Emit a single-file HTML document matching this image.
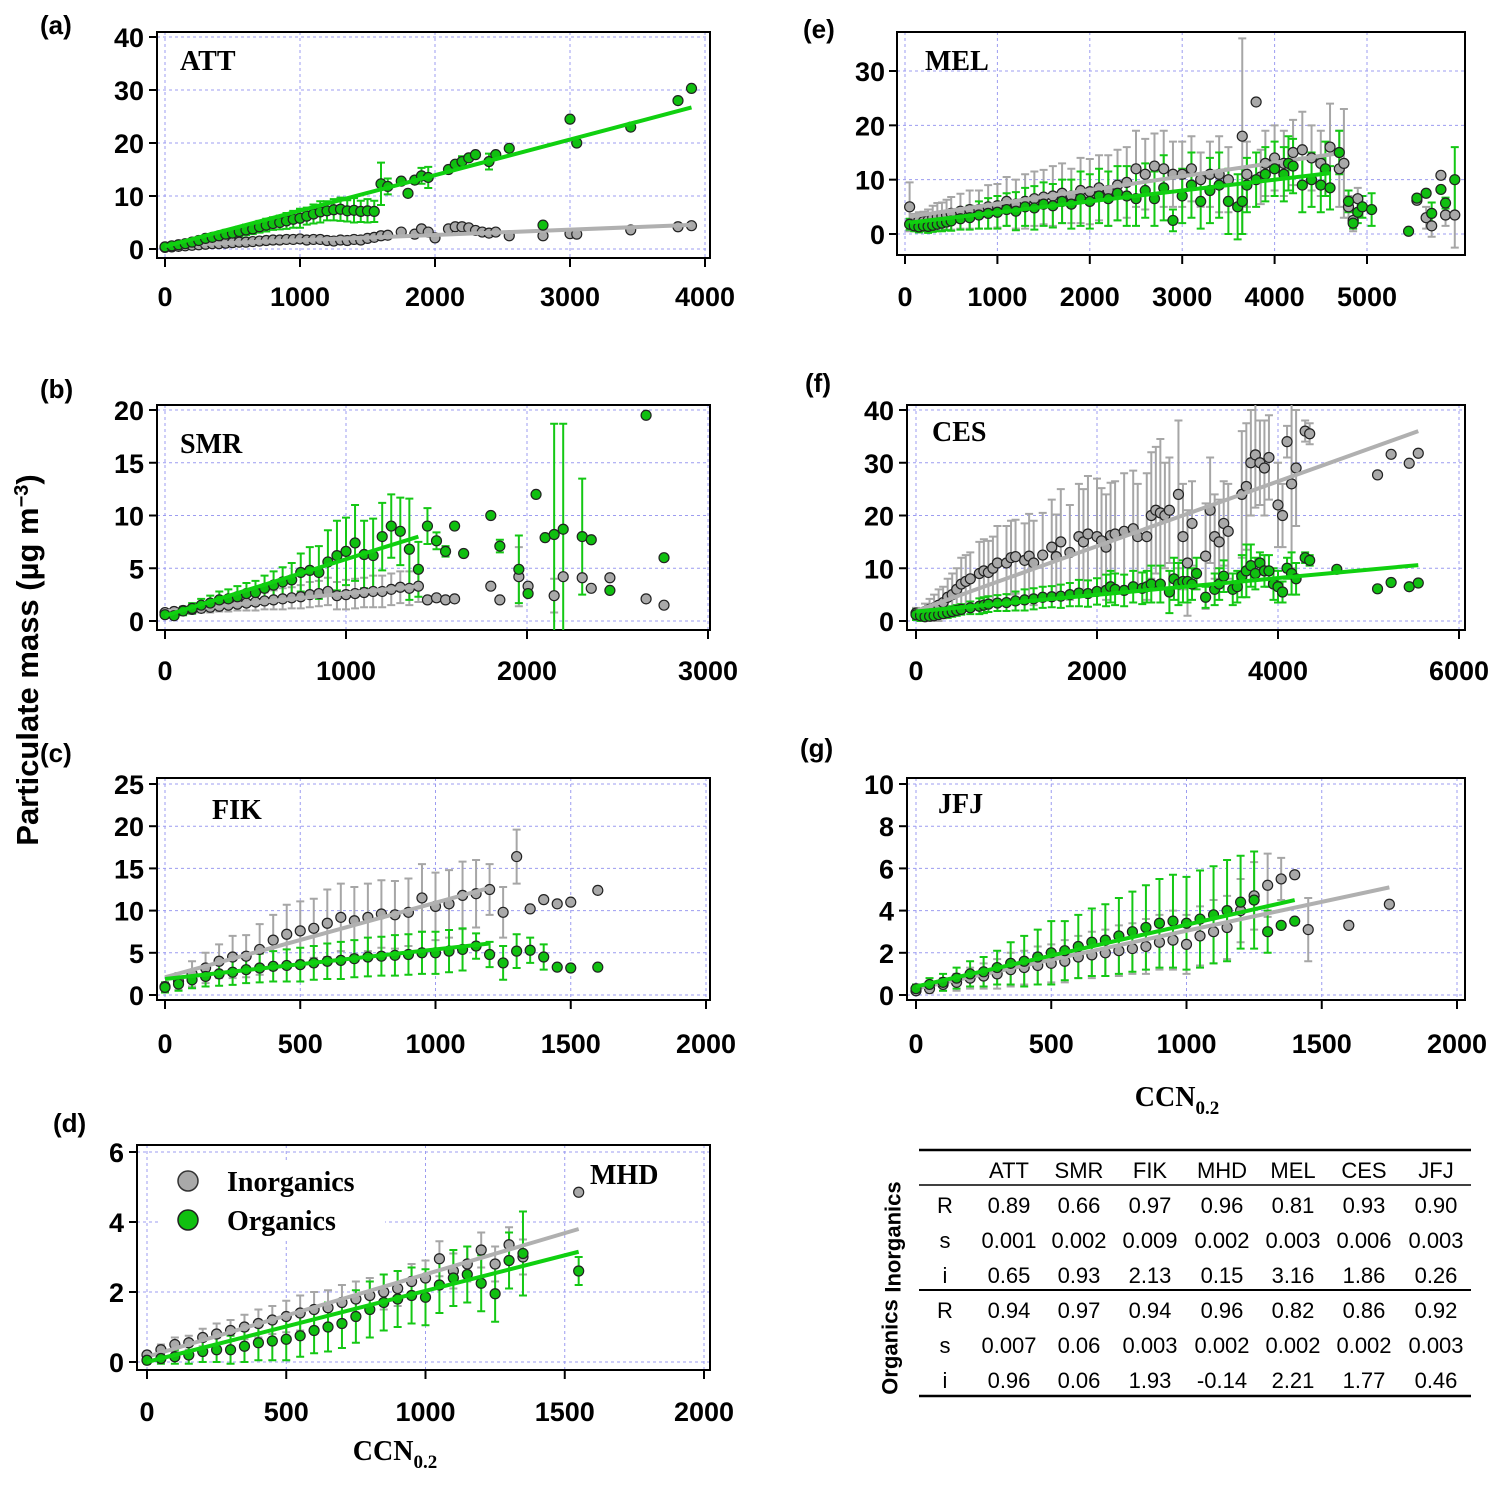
<!DOCTYPE html>
<html><head><meta charset="utf-8">
<style>
html,body{margin:0;padding:0;background:#fff;}
svg text{font-family:"Liberation Sans",sans-serif;}
.tick{font-family:"Liberation Sans",sans-serif;font-weight:bold;font-size:27px;fill:#000;}
.ttl{font-family:"Liberation Serif",serif;font-weight:bold;font-size:28px;fill:#000;}
.plab{font-family:"Liberation Sans",sans-serif;font-weight:bold;font-size:26px;fill:#000;}
.tb{font-family:"Liberation Sans",sans-serif;font-size:22px;fill:#000;}
</style></head>
<body>
<svg id="fig" width="1502" height="1482" viewBox="0 0 1502 1482" xmlns="http://www.w3.org/2000/svg">
<rect x="0" y="0" width="1502" height="1482" fill="#fff"/>
<text class="plab" x="40" y="34">(a)</text>
<text class="plab" x="803" y="38">(e)</text>
<text class="plab" x="40" y="398">(b)</text>
<text class="plab" x="805" y="392">(f)</text>
<text class="plab" x="40" y="762">(c)</text>
<text class="plab" x="800" y="757">(g)</text>
<text class="plab" x="53" y="1132">(d)</text>
<text x="38" y="660" transform="rotate(-90 38 660)" text-anchor="middle" style="font-weight:bold;font-size:31px">Particulate mass (µg m<tspan dy="-10" font-size="20">−3</tspan><tspan dy="10">)</tspan></text>
<text class="ttl" x="1177" y="1106" text-anchor="middle">CCN<tspan dy="8" font-size="19">0.2</tspan></text>
<text class="ttl" x="395" y="1460" text-anchor="middle">CCN<tspan dy="8" font-size="19">0.2</tspan></text>
<g id="plots"></g>
<g id="legend">
<rect x="160" y="1163" width="225" height="78" fill="#fff"/>
<circle cx="188" cy="1181" r="10" fill="#a9a9a9" stroke="#333" stroke-width="1.5"/>
<text class="ttl" x="227" y="1191">Inorganics</text>
<circle cx="188" cy="1220" r="10" fill="#10c010" stroke="#222" stroke-width="1.5"/>
<text class="ttl" x="227" y="1230">Organics</text>
</g>
<g id="table">
<line x1="919" y1="1150" x2="1471" y2="1150" stroke="#000" stroke-width="2.5"/>
<line x1="919" y1="1185" x2="1471" y2="1185" stroke="#000" stroke-width="1.5"/>
<line x1="919" y1="1290" x2="1471" y2="1290" stroke="#000" stroke-width="2"/>
<line x1="919" y1="1396" x2="1471" y2="1396" stroke="#000" stroke-width="2.5"/>
<text class="tb" x="893" y="1237" transform="rotate(-90 893 1237)" text-anchor="middle" dominant-baseline="central" style="font-weight:bold">Inorganics</text>
<text class="tb" x="890" y="1347" transform="rotate(-90 890 1347)" text-anchor="middle" dominant-baseline="central" style="font-weight:bold">Organics</text>
</g>
</svg>
<script>
// ---- data ----
const stations = ["ATT","SMR","FIK","MHD","MEL","CES","JFJ"];
const rowLabels = ["R","s","i","R","s","i"];
const tableValues = [
 ["0.89","0.66","0.97","0.96","0.81","0.93","0.90"],
 ["0.001","0.002","0.009","0.002","0.003","0.006","0.003"],
 ["0.65","0.93","2.13","0.15","3.16","1.86","0.26"],
 ["0.94","0.97","0.94","0.96","0.82","0.86","0.92"],
 ["0.007","0.06","0.003","0.002","0.002","0.002","0.003"],
 ["0.96","0.06","1.93","-0.14","2.21","1.77","0.46"]];

const attOrg = [[0,0.4,0.3],[50,0.6,0.3],[100,0.8,0.4],[150,1.0,0.4],[200,1.3,0.5],[250,1.6,0.5],[300,2.0,0.6],[350,2.2,0.6],[400,2.5,0.7],[450,2.8,0.8],[500,3.0,0.8],[550,3.3,0.9],[600,3.6,1.0],[650,3.8,1.0],[700,4.2,1.1],[750,4.5,1.2],[800,4.8,1.2],[850,5.0,1.3],[900,5.3,1.5],[950,5.6,1.6],[1000,5.8,1.8],[1050,6.2,1.6],[1100,6.6,1.8],[1150,7.0,2.0],[1200,7.2,1.8],[1250,7.4,2.0],[1300,7.5,2.2],[1350,7.2,2.0],[1400,7.3,2.3],[1450,7.1,2.0],[1500,7.2,2.2],[1550,7.1,2.0],[1600,12.3,4.0],[1650,11.8,1.5],[1750,12.8,0],[1800,10.5,0],[1850,13.0,0],[1900,13.8,1.5],[1950,13.5,2.0],[2100,15.0,0],[2150,16.0,0],[2200,16.5,1.0],[2250,17.2,0],[2300,17.8,0],[2400,16.5,1.5],[2450,17.8,0],[2550,19.0,0],[2800,4.5,0],[3000,24.5,0],[3050,20.0,0],[3450,23.0,0],[3800,28.0,0],[3900,30.3,0]];
const attInorg = [[0,0.3,0.2],[50,0.4,0.2],[100,0.5,0.2],[150,0.6,0.3],[200,0.7,0.3],[250,0.8,0.3],[300,0.9,0.3],[350,1.0,0.3],[400,1.0,0.4],[450,1.1,0.4],[500,1.2,0.4],[550,1.3,0.4],[600,1.3,0.5],[650,1.4,0.5],[700,1.5,0.5],[750,1.6,0.5],[800,1.7,0.5],[850,1.7,0.5],[900,1.8,0.6],[950,1.8,0.6],[1000,1.9,0.6],[1050,1.7,0.6],[1100,1.8,0.6],[1150,1.8,0.6],[1200,1.6,0.6],[1250,1.5,0.6],[1300,1.7,0.6],[1350,1.6,0.6],[1400,1.8,0.6],[1450,1.7,0.6],[1500,2.0,0.6],[1550,2.2,0.6],[1600,2.5,0.7],[1650,2.6,0],[1750,3.2,0],[1850,2.8,0],[1900,3.8,0],[1950,3.2,0],[2000,2.1,0],[2100,3.8,0],[2150,4.2,0],[2200,4.2,0],[2250,4.0,0],[2300,3.5,0],[2350,3.2,0],[2400,3.0,0],[2450,3.2,0],[2550,2.5,0],[2800,2.5,0],[3000,2.9,0],[3050,2.8,0],[3450,3.6,0],[3800,4.2,0],[3900,4.4,0]];
const attFitOrg = [0,0.5,3900,26.7];
const attFitInorg = [0,0.65,3900,4.55];

const melInorg = [[50,5,4.5],[100,2.2,1.5],[150,2.5,1.5],[200,2.3,1.8],[250,2.5,2],[300,3,2.2],[350,3.2,2.5],[400,3.3,2.5],[450,3.5,2.8],[500,3.8,3],[600,4.2,3.2],[700,4.5,3.5],[800,4.5,3.5],[900,5,4],[1000,5.2,4],[1100,6,4.5],[1200,5.5,4.5],[1300,6,5],[1400,6.5,5],[1500,6.8,5],[1600,7,5.5],[1700,7.5,5.5],[1800,7,5],[1900,8,6],[2000,7.8,6],[2100,8.5,6],[2200,8,6.5],[2300,9,6.5],[2400,9.5,6.5],[2500,12,7],[2600,11,6.5],[2700,12.5,6],[2800,12,7],[2900,11,6],[3000,11,6],[3100,12,6],[3200,10,5],[3300,11,6],[3400,11,7],[3500,10,6],[3650,18,18],[3700,11,6],[3800,24.3,0],[3850,10.5,5],[3900,13,6],[4000,14,6],[4100,13,6],[4200,15,6],[4300,15.5,7],[4400,14,6],[4500,13,6],[4600,16,8],[4700,12,7],[4750,13,10],[4800,5,2],[4850,2.5,2],[4900,6.5,2],[5540,6.2,0],[5640,3,2],[5700,1.5,2],[5800,10.8,0],[5850,3.5,2],[5950,3.5,6]];
const melOrg = [[50,1.8,1],[100,1.5,1],[150,1.3,1],[200,1.5,1],[250,1.4,1.2],[300,1.6,1.2],[350,1.8,1.3],[400,2,1.5],[450,2.2,1.5],[500,2.4,1.8],[600,2.8,2],[700,3,2.2],[800,3.5,2.5],[900,3.8,2.8],[1000,4,3],[1100,4.5,3],[1200,4.2,3.5],[1300,5,3.5],[1400,4.8,4],[1500,5.5,4],[1600,5.2,4],[1700,6,4],[1800,5.5,4.5],[1900,6.5,5],[2000,6,5],[2100,7,5],[2200,6.5,5],[2300,7.5,5],[2400,7,5.5],[2500,6.5,5],[2600,8,5],[2700,6.5,5],[2800,8.5,6],[2900,2.5,2],[3000,7,5],[3100,9,6],[3200,6,5],[3300,8,6],[3400,9,6],[3500,6,6],[3600,5,6],[3650,6,6],[3700,9,5],[3800,10,5],[3900,11,5],[4000,12,5],[4100,11,5],[4150,13,5],[4200,12.5,5],[4300,9,5],[4400,10,5],[4500,9,5],[4550,12,5],[4600,8.5,4],[4700,15,4],[4800,6,2],[4850,2,1],[4900,4,2],[4950,5,2],[5050,4.5,3],[5450,0.5,0],[5540,6.6,0],[5640,7.5,0],[5700,3.8,2],[5800,8.2,0],[5850,5.7,1],[5950,10,6]];
const melFitInorg = [50,3.2,4750,15];
const melFitOrg = [50,2.1,4600,11.2];

const smrOrg = [[0,0.6,0.3],[50,0.5,0.3],[100,0.95,0.4],[150,1.2,0.5],[200,1.5,0.6],[250,1.7,0.7],[300,2.0,0.8],[350,2.1,0.9],[400,2.3,1.0],[450,2.6,1.0],[500,2.7,1.1],[550,3.1,1.2],[600,3.4,1.3],[650,3.7,1.4],[700,3.9,1.6],[750,4.6,1.8],[800,4.8,2.2],[850,4.6,2.5],[900,5.6,3.0],[950,6.2,3.3],[1000,6.6,3.2],[1050,7.4,3.6],[1100,6.3,3.2],[1150,6.2,3.5],[1200,8.0,3.2],[1250,9.0,3.0],[1300,8.5,3.2],[1350,6.8,4.8],[1400,4.9,2.6],[1450,9.0,1.7],[1500,7.6,0.8],[1550,6.6,0.5],[1600,9.0,0],[1650,6.4,0],[1800,10,0],[1850,7.1,0.6],[1955,4.9,3.2],[2006,2.6,0],[2050,12,0],[2100,7.9,0],[2150,8.2,10.5],[2200,8.7,10],[2305,8,5.5],[2355,7.7,0],[2458,2.9,0],[2658,19.5,0],[2757,6,0]];
const smrInorg = [[0,0.8,0.3],[50,0.9,0.3],[100,1.0,0.3],[150,1.1,0.4],[200,1.2,0.4],[250,1.3,0.5],[300,1.4,0.5],[350,1.5,0.6],[400,1.6,0.6],[450,1.7,0.7],[500,1.8,0.8],[550,1.9,0.8],[600,2.0,0.9],[650,2.1,1.0],[700,2.2,1.0],[750,2.3,1.1],[800,2.5,1.2],[850,2.6,1.2],[900,2.8,1.3],[950,2.4,1.3],[1000,2.5,1.4],[1050,2.6,1.4],[1100,2.7,1.4],[1150,2.8,1.5],[1200,2.8,1.5],[1250,3.0,1.5],[1300,3.2,1.5],[1350,3.1,1.6],[1400,3.3,1.5],[1450,2.0,0],[1500,2.2,0],[1550,2.0,0],[1600,2.1,0],[1800,3.3,0],[1850,2.0,0],[1955,4.2,2.8],[2006,3.3,0],[2150,2.4,1.6],[2200,4.2,0],[2305,4.1,0],[2355,3.1,0],[2458,4.1,0],[2658,2.1,0],[2757,1.5,0]];
const smrFitOrg = [0,0.5,1400,8.0];
const smrFitInorg = [0,0.9,1400,3.3];

const cesInorg = [[0,1.5,1],[50,1.2,1],[100,1.8,1.5],[150,2.2,2],[200,2.5,2.5],[250,3,3],[300,3.5,3],[350,4.5,3.5],[400,5,4],[450,6,4],[500,7,5],[550,7.5,5],[600,8,5],[700,9,6],[750,9.5,6],[800,9.2,6],[850,10,6],[900,11,7],[1000,11,7],[1050,12,7],[1100,12.2,7],[1200,11.5,7],[1250,12.3,8],[1300,11,8],[1400,12.5,8],[1500,14,9],[1550,12.2,8],[1600,15,10],[1700,13,9],[1800,16,10],[1850,15,10],[1900,16.5,11],[2000,16,11],[2050,15.2,10],[2100,14,10],[2150,16.2,10],[2200,16.5,10],[2300,17,11],[2400,17.5,11],[2450,16,10],[2550,16,12],[2600,20,12],[2650,21,12],[2700,20.5,14],[2750,20,10],[2800,21,10],[2900,24,14],[2950,16,10],[3000,11,10],[3050,18.5,8],[3200,12.3,10],[3250,21,10],[3300,16,8],[3350,15,8],[3400,18.5,8],[3450,17,9],[3600,24,12],[3650,25.5,12],[3700,30,10],[3750,31.5,10],[3800,30,8],[3850,29,9],[3900,31,8],[4000,22,8],[4050,20,6],[4100,34,3],[4150,26,16],[4200,29,11],[4300,36,2],[4350,35.5,2],[5100,27.7,0],[5250,31.6,0],[5450,29.9,0],[5550,31.8,0]];
const cesOrg = [[0,1.2,1],[50,1,1],[100,0.8,0.5],[150,0.9,0.5],[200,1,0.5],[250,1.2,0.6],[300,1.4,0.8],[350,1.6,1],[400,1.8,1],[450,2,1],[500,2.2,1],[600,2.5,1.2],[700,2.8,1.5],[750,3,1.5],[800,3.2,1.5],[900,3.4,1.5],[1000,3.5,1.6],[1100,3.8,1.8],[1200,4,2],[1300,4.2,2],[1400,4.5,2],[1500,4.6,2],[1600,4.7,2.2],[1700,5,2.2],[1800,5.3,2.5],[1900,5.2,2.5],[2000,5.6,2.5],[2100,5.8,3],[2150,6.5,3],[2200,6,3],[2300,5.8,3],[2400,6.5,3],[2500,6.2,3],[2550,6.5,3],[2600,7,3.5],[2700,7,3.5],[2800,5.5,4],[2850,8,4],[2900,7,4],[2950,7.5,4],[3000,7.5,4],[3050,7,3],[3100,9,3],[3200,4.5,2],[3300,6,3],[3350,7,3],[3400,8.5,3],[3500,6,3],[3550,6.5,3],[3600,8.5,4],[3650,9.5,5],[3700,10.5,4],[3750,9,3],[3800,11,2],[3850,9.5,3],[3900,9.5,3],[3950,7,3],[4000,6.5,3],[4050,5.5,2],[4100,10,2],[4150,9,4],[4200,8,3],[4300,12,1],[4350,11.5,1],[4650,9.8,0],[5100,6.1,0],[5250,7.3,0],[5450,6.5,0],[5550,7.2,0]];
const cesFitInorg = [0,1.9,5550,36.0];
const cesFitOrg = [0,1.8,5550,10.6];

const fikInorg = [[0,1.0,0.5],[50,1.6,1],[100,2.5,1.5],[150,3.2,1.8],[200,4.0,2],[250,4.5,2.5],[300,4.6,2.5],[350,5.4,3],[400,6.5,3],[450,7.2,3.5],[500,7.6,3.5],[550,7.9,3.5],[600,8.5,4],[650,9.2,4],[700,8.8,4],[750,9.2,4],[800,9.6,4],[850,9.5,4],[900,9.8,4],[950,11.5,4],[1000,10.5,4],[1050,10.8,4],[1100,11.8,4],[1150,12.0,4],[1200,12.5,3],[1250,9.8,3],[1300,16.4,3.2],[1350,10.2,0],[1400,11.3,0],[1450,10.8,0],[1500,11,0],[1600,12.4,0]];
const fikOrg = [[0,0.9,0.6],[50,1.3,0.8],[100,1.8,1],[150,2.2,1.2],[200,2.5,1.4],[250,2.7,1.5],[300,3.0,1.6],[350,3.2,1.7],[400,3.4,1.8],[450,3.5,1.9],[500,3.6,2],[550,3.8,2],[600,4.0,2.1],[650,4.1,2.2],[700,4.3,2.2],[750,4.5,2.3],[800,4.6,2.3],[850,4.7,2.4],[900,4.8,2.4],[950,5.0,2.5],[1000,5.0,2.5],[1050,5.2,2.5],[1100,5.4,2.5],[1150,5.8,1.5],[1200,4.8,1.5],[1250,3.8,2],[1300,5.2,2],[1350,5.3,1.5],[1400,4.5,1.5],[1450,3.3,0],[1500,3.2,0],[1600,3.3,0]];
const fikFitInorg = [0,2.1,1200,12.7];
const fikFitOrg = [0,1.9,1200,6.1];

const jfjInorg = [[0,0.2,0.1],[50,0.3,0.2],[100,0.5,0.3],[150,0.6,0.4],[200,0.8,0.5],[250,0.9,0.6],[300,1.0,0.7],[350,1.2,0.8],[400,1.3,0.8],[450,1.4,0.9],[500,1.5,0.9],[550,1.6,1.0],[600,1.8,1.0],[650,1.9,1.1],[700,2.0,1.1],[750,2.1,1.2],[800,2.2,1.2],[850,2.3,1.3],[900,2.5,1.3],[950,2.6,1.4],[1000,2.4,1.4],[1050,2.8,1.4],[1100,3.0,1.5],[1150,3.2,1.5],[1200,4.0,1.5],[1250,4.7,1.6],[1300,5.2,1.5],[1350,5.5,1],[1400,5.7,0],[1450,3.1,1.5],[1600,3.3,0],[1750,4.3,0]];
const jfjOrg = [[0,0.3,0.2],[50,0.5,0.3],[100,0.6,0.4],[150,0.8,0.5],[200,1.0,0.6],[250,1.1,0.7],[300,1.3,0.8],[350,1.5,1.0],[400,1.6,1.2],[450,1.8,1.3],[500,2.0,1.5],[550,2.1,1.4],[600,2.3,1.5],[650,2.5,1.6],[700,2.6,1.7],[750,2.8,1.8],[800,3.0,1.9],[850,3.2,2.0],[900,3.4,2.1],[950,3.5,2.2],[1000,3.4,2.2],[1050,3.6,2.3],[1100,3.8,2.3],[1150,4.0,2.4],[1200,4.4,2.2],[1250,4.5,2.3],[1300,3.0,1],[1350,3.3,0],[1400,3.5,0]];
const jfjFitInorg = [0,0.3,1750,5.1];
const jfjFitOrg = [0,0.4,1400,4.5];

const mhdInorg = [[0,0.2,0.1],[50,0.35,0.15],[100,0.5,0.2],[150,0.55,0.2],[200,0.7,0.25],[250,0.8,0.3],[300,0.9,0.3],[350,1.0,0.35],[400,1.1,0.4],[450,1.2,0.4],[500,1.3,0.45],[550,1.4,0.5],[600,1.5,0.5],[650,1.55,0.5],[700,1.7,0.5],[750,1.8,0.5],[800,1.9,0.5],[850,2.0,0.5],[900,2.1,0.5],[950,2.3,0.5],[1000,2.4,0.5],[1050,2.95,0.5],[1100,2.6,0.5],[1150,2.8,0.5],[1200,3.2,0.5],[1250,2.8,0.5],[1300,3.35,0.5],[1350,3.0,0.5],[1550,4.85,0]];
const mhdOrg = [[0,0.05,0.1],[50,0.1,0.15],[100,0.15,0.2],[150,0.2,0.25],[200,0.3,0.3],[250,0.35,0.35],[300,0.35,0.4],[350,0.45,0.45],[400,0.55,0.5],[450,0.6,0.55],[500,0.65,0.6],[550,0.75,0.6],[600,0.9,0.65],[650,1.0,0.7],[700,1.1,0.7],[750,1.3,0.75],[800,1.5,0.8],[850,1.7,0.8],[900,1.8,0.8],[950,1.9,0.8],[1000,1.85,0.8],[1050,2.2,0.8],[1100,2.4,0.8],[1150,2.5,0.8],[1200,2.25,0.8],[1250,1.95,0.8],[1300,2.9,0.8],[1350,3.1,1.2],[1550,2.6,0.4]];
const mhdFitInorg = [0,0.15,1550,3.8];
const mhdFitOrg = [0,0.0,1550,3.15];

const attXTicks = [0,1000,2000,3000,4000];
const attYTicks = [0,10,20,30,40];
const melXTicks = [0,1000,2000,3000,4000,5000];
const melYTicks = [0,10,20,30];
const smrXTicks = [0,1000,2000,3000];
const smrYTicks = [0,5,10,15,20];
const cesXTicks = [0,2000,4000,6000];
const cesYTicks = [0,10,20,30,40];
const fikXTicks = [0,500,1000,1500,2000];
const fikYTicks = [0,5,10,15,20,25];
const jfjXTicks = [0,500,1000,1500,2000];
const jfjYTicks = [0,2,4,6,8,10];
const mhdXTicks = [0,500,1000,1500,2000];
const mhdYTicks = [0,2,4,6];

// ---- drawing ----
const NS = "http://www.w3.org/2000/svg";
const root = document.getElementById("plots");
function mk(tag, attrs, parent){ const e=document.createElementNS(NS,tag); for(const k in attrs) e.setAttribute(k,attrs[k]); (parent||root).appendChild(e); return e; }

const GRAYC="#a6a6a6", GREENC="#14c814";

function drawPanel(id, frame, xmap, ymap, xTicks, yTicks, inorg, org, fitIn, fitOr, title, titlePos, xTickY, yTickX){
  const g = mk("g",{});
  
  
  const sx = v => xmap[1] + (v - xmap[0])*(xmap[3]-xmap[1])/(xmap[2]-xmap[0]);
  const sy = v => ymap[1] + (v - ymap[0])*(ymap[3]-ymap[1])/(ymap[2]-ymap[0]);
  const [fx0,fy0,fx1,fy1] = frame;
  const clipId = "clip-"+id;
  const cp = mk("clipPath",{id:clipId},g);
  mk("rect",{x:fx0,y:fy0,width:fx1-fx0,height:fy1-fy0},cp);
  xTicks.forEach(t=>{ const l=mk("line",{x1:sx(t),x2:sx(t),y1:fy0,y2:fy1,stroke:"#9c9cf0","stroke-width":1,"stroke-dasharray":"3,3"},g);
      });
  yTicks.forEach(t=>{ const l=mk("line",{x1:fx0,x2:fx1,y1:sy(t),y2:sy(t),stroke:"#9c9cf0","stroke-width":1,"stroke-dasharray":"3,3"},g);
      });
  const fr = mk("rect",{x:fx0,y:fy0,width:fx1-fx0,height:fy1-fy0,fill:"none",stroke:"#000","stroke-width":2},g);
   
  xTicks.forEach(t=>{ mk("line",{x1:sx(t),x2:sx(t),y1:fy1,y2:fy1+9,stroke:"#000","stroke-width":2},g);
    const tx=mk("text",{x:sx(t),y:xTickY,"text-anchor":"middle",class:"tick"},g); tx.textContent=t;
      });
  yTicks.forEach(t=>{ mk("line",{x1:fx0-8,x2:fx0,y1:sy(t),y2:sy(t),stroke:"#000","stroke-width":2},g);
    const tx=mk("text",{x:yTickX,y:sy(t)+10,"text-anchor":"end",class:"tick"},g); tx.textContent=t;
      });
  const tt = mk("text",{x:titlePos[0],y:titlePos[1],class:"ttl"},g); tt.textContent=title;
   
  const data = mk("g",{"clip-path":"url(#"+clipId+")"},g);
  function errs(pts,col,name){ pts.forEach(p=>{ if(!p[2]) return; const x=sx(p[0]), a=sy(p[1]+p[2]), b=sy(p[1]-p[2]);
      const e=mk("path",{d:`M${x},${a}V${b}M${x-4},${a}h8M${x-4},${b}h8`,stroke:col,"stroke-width":2,fill:"none"},data);
        }); }
  function pts(ps,fill,name){ ps.forEach(p=>{ const c=mk("circle",{cx:sx(p[0]),cy:sy(p[1]),r:5,fill:fill,stroke:"#222","stroke-width":1.2},data);
        }); }
  function fit(f,col,name){ const l=mk("line",{x1:sx(f[0]),y1:sy(f[1]),x2:sx(f[2]),y2:sy(f[3]),stroke:col,"stroke-width":4},data);
        }
  errs(inorg,GRAYC,'inorganics-error-bar');
  errs(org,GREENC,'organics-error-bar');
  pts(inorg,"#a9a9a9",'inorganics-point');
  fit(fitIn,"#b0b0b0",'inorganics-fit-line');
  pts(org,"#10c010",'organics-point');
  fit(fitOr,"#10d010",'organics-fit-line');
}

drawPanel("att",[157,32,710,258],[0,165,4000,705],[0,249,40,37],attXTicks,attYTicks,attInorg,attOrg,attFitInorg,attFitOrg,"ATT",[180,70],306,144);
drawPanel("mel",[897,32,1465,255],[0,905,5000,1367],[0,234,30,71],melXTicks,melYTicks,melInorg,melOrg,melFitInorg,melFitOrg,"MEL",[925,70],306,885);
drawPanel("smr",[157,405,710,630],[0,165,3000,708],[0,621,20,410],smrXTicks,smrYTicks,smrInorg,smrOrg,smrFitInorg,smrFitOrg,"SMR",[180,453],680,144);
drawPanel("ces",[907,405,1465,630],[0,916,6000,1459],[0,621,40,410],cesXTicks,cesYTicks,cesInorg,cesOrg,cesFitInorg,cesFitOrg,"CES",[932,441],680,894);
drawPanel("fik",[157,778,710,1000],[0,165,2000,706],[0,995,25,784],fikXTicks,fikYTicks,fikInorg,fikOrg,fikFitInorg,fikFitOrg,"FIK",[212,819],1053,144);
drawPanel("jfj",[907,778,1465,1000],[0,916,2000,1457],[0,995,10,784],jfjXTicks,jfjYTicks,jfjInorg,jfjOrg,jfjFitInorg,jfjFitOrg,"JFJ",[938,813],1053,894);
drawPanel("mhd",[137,1145,710,1370],[0,147,2000,704],[0,1362,6,1152],mhdXTicks,mhdYTicks,mhdInorg,mhdOrg,mhdFitInorg,mhdFitOrg,"MHD",[590,1184],1421,124);

const svg = document.getElementById("fig");
svg.appendChild(document.getElementById("legend"));

const tbl = document.getElementById("table");
const colX = [1009,1079,1150,1222,1293,1364,1436];
const rowY = [1205,1240,1275,1310,1345,1380];
stations.forEach((s,i)=>{ const t=mk("text",{x:colX[i],y:1178,"text-anchor":"middle",class:"tb"},tbl); t.textContent=s;
    });
rowLabels.forEach((r,j)=>{ const t=mk("text",{x:945,y:rowY[j]+8,"text-anchor":"middle",class:"tb"},tbl); t.textContent=r;
   
  tableValues[j].forEach((v,i)=>{ const c=mk("text",{x:colX[i],y:rowY[j]+8,"text-anchor":"middle",class:"tb"},tbl); c.textContent=v;
      }); });
</script>
</body></html>
